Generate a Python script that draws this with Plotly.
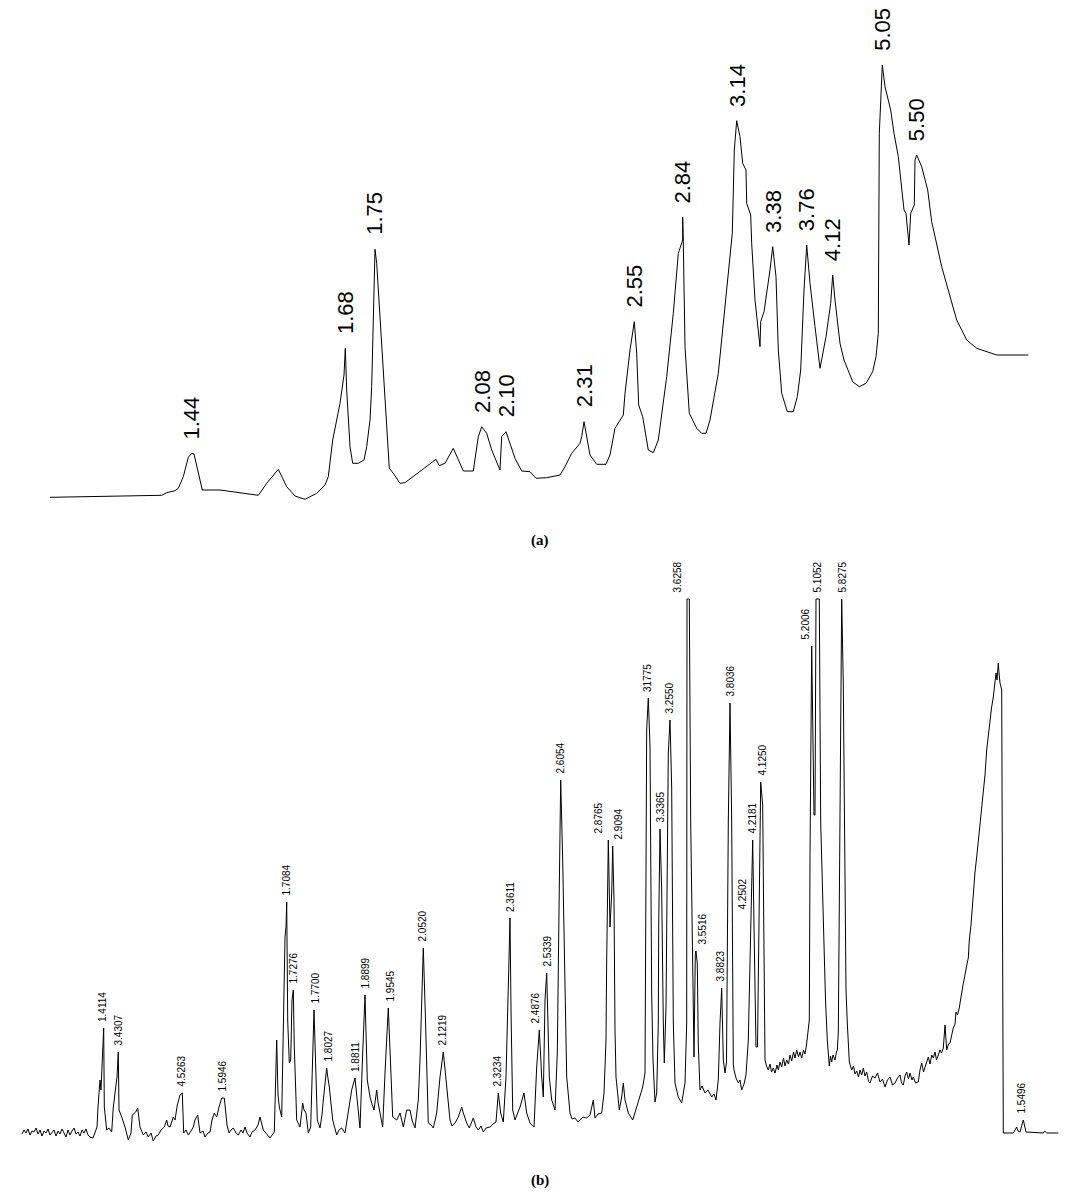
import numpy as np
import plotly.graph_objects as go

# ---- panel (a): smoothed chromatogram (time index, detector signal) ----
a_time = [50, 116.7, 143, 161.7, 166.7, 175, 178.3, 183.3, 188.3, 191.7, 194, 196.7, 202.3, 220,
          253.3, 258.3, 266.7, 278.3, 286.7, 295, 305, 316.7, 325, 328.3, 332.7, 340, 344, 345.3,
          346.7, 350, 352.7, 358.3, 364, 366.7, 370, 371.7, 373.3, 375, 376.7, 380, 385, 389.3,
          393.3, 400, 405, 420, 433.3, 436, 439.3, 445, 453.3, 463.3, 473.3, 478.3, 481.7, 486.7,
          491.7, 500, 501.7, 506, 515, 521.7, 530, 536, 546.7, 560, 565, 571.7, 580, 581.7, 584,
          586, 590, 596.7, 606, 610, 615, 623.3, 625, 630, 634.3, 636.7, 638.7, 642.7, 648.3,
          653.3, 658.3, 666.7, 673.3, 678.3, 682.7, 682.7, 683.3, 685, 689.3, 696.7, 701.7, 706,
          710, 718.3, 725, 732.3, 734.3, 736.7, 740, 742.7, 746, 746.7, 750.7, 751.7, 755, 760,
          760.7, 764, 770, 772.7, 776, 778.3, 781.7, 787.3, 793.3, 797.3, 800.7, 804, 806.7, 810,
          815, 820, 826, 830.7, 832.7, 835, 840, 844, 852.7, 859.3, 866, 872.7, 876, 878.3, 879.3,
          882.3, 885, 890.7, 894, 898.3, 904, 906, 909, 910.7, 914.3, 915, 916.7, 921.7, 927.7,
          931.7, 941.7, 956.7, 966.7, 976.7, 996.7, 1028.3]
a_signal = [2.7, 4, 4.7, 4.7, 7.3, 9.3, 11.7, 23.3, 42.7, 46.7, 46, 33.3, 10, 10,
            6, 4.7, 16.7, 30.7, 13.3, 4, 0.7, 6.7, 15, 23.3, 60, 96.7, 125, 151.7,
            110, 53.3, 36.7, 36.7, 40, 53.3, 80, 113.3, 180, 250.7, 236.7, 180, 96.7, 31.7,
            26.7, 16.7, 17.3, 28.3, 38.3, 40.7, 34.3, 36.7, 51.7, 29, 29, 63.3, 73.3, 66.7,
            50, 30, 63.3, 68.3, 41.7, 29, 28.3, 21.7, 22.3, 25, 33.3, 46.7, 56.7, 63.3, 78.3,
            66.7, 45, 35.7, 35.7, 45, 71.7, 85, 106.7, 150, 178.3, 146.7, 95, 83.3, 50,
            47.3, 60, 123.3, 186.7, 246.7, 260, 282.7, 258.3, 153.3, 86.7, 71.7, 66.7, 66.7,
            80, 126.7, 196.7, 266.7, 350, 379.3, 363.3, 336.7, 330, 296.7, 285, 256.7, 200, 153.3,
            178.3, 188.3, 230, 253.3, 223.3, 150, 106.7, 88.3, 88.3, 103.3, 130, 210, 255, 216.7,
            173.3, 131.7, 163.3, 196.7, 225, 200, 156.7, 140, 118.3, 113.3, 116.7, 128.3, 143.3, 166.7, 366.7,
            435, 413.3, 390, 366.7, 343.3, 290, 286.7, 255, 286.7, 295, 340, 345, 333.3, 310,
            278.3, 233.3, 180, 160, 151.7, 145, 145]

a_labels = ["1.44", "1.68", "1.75", "2.08", "2.10", "2.31", "2.55", "2.84",
            "3.14", "3.38", "3.76", "4.12", "5.05", "5.50"]
a_label_peaks = [191.7, 345.3, 375, 481.7, 506, 584, 634.3, 682.7,
                 736.7, 772.7, 806.7, 832.7, 882.3, 916.7]

# ---- panel (b): raw chromatogram ----
b_time = [22, 24, 26, 28, 30, 32, 34, 36, 38, 40, 42, 44, 46, 48, 50, 52, 54, 56, 58, 60,
          62, 64, 66, 68, 70, 72, 74, 76, 78, 80, 82, 84, 86, 88, 90,
          93, 97, 98, 100, 101, 102, 103.7, 104.3, 106.7, 109, 111.7, 113.3, 115.7, 117, 118.3,
          119, 121.7, 125, 128.3, 131, 132.3, 135.7, 137.7, 140, 143.3, 146, 148.3, 151, 153.3,
          156, 158.3, 161, 164.3, 166.7, 168, 170, 173.3, 175, 177.3, 180, 182.3, 183.7, 186,
          188.3, 191, 193.3, 195, 197.7, 200, 203, 205, 208, 210, 212, 214.3, 216.7, 219, 221.7,
          224.3, 225.7, 227, 229, 231, 233.3, 236, 238.3, 241, 243, 245, 247, 250, 252, 255, 258,
          260, 263.3, 266, 270, 274.3, 275, 276.7, 278, 279.3, 281.7, 283.3, 285, 286, 286.7,
          287.7, 289.3, 290.7, 292, 293.3, 294.3, 296.7, 300, 302.7, 304, 306, 308.3, 310.7,
          312.7, 314, 315.3, 317.3, 320, 322, 323.3, 325, 326.7, 327.5, 329.3, 332.7, 334.5,
          336.7, 339, 341.7, 345, 348.3, 350, 351.7, 355, 357.3, 360, 362.7, 365, 367.3, 370,
          372, 374, 376.7, 378, 380, 382.7, 385, 387.3, 388.3, 390.7, 392.7, 396.7, 400, 403.3,
          406.7, 410, 412, 415, 418.3, 420, 421.7, 423.3, 425.3, 428.3, 431, 433.3, 436.7, 440,
          443.3, 446.7, 450, 452, 455, 458.3, 461.7, 463.3, 466.7, 469.3, 473.3, 476, 478.3, 481,
          483.3, 486, 490, 493, 496, 498.3, 500.7, 503.3, 506, 508.3, 510, 511, 512.7, 515, 518,
          520, 524, 526.7, 530, 534, 536.7, 539.3, 541.7, 543.3, 545, 546.7, 549.3, 551.7, 555,
          557.3, 559.3, 560.7, 562.7, 565, 566.7, 570, 572, 575, 578, 580, 583, 586.7, 590,
          593.3, 595, 598, 601.7, 604, 606, 606.7, 608.3, 610, 611.7, 612.7, 614, 615, 616,
          619.3, 621.7, 623.3, 625, 628.3, 632.7, 636.7, 640, 642.7, 645, 646.7, 648.3, 650,
          651.7, 653, 655, 656.7, 658.3, 658.7, 660, 661.7, 663.3, 664.3, 666, 668.3, 670, 671.7,
          673.3, 675, 678.3, 681.7, 685, 686.7, 687, 689.3, 690.7, 692.7, 694, 695.3, 696, 697.3,
          698.3, 700, 702, 705, 708, 711.7, 714, 716, 718.3, 720, 721.7, 723.3, 725, 726.5,
          728.3, 730, 731.7, 733.3, 734, 736, 738.3, 740, 741.7, 744, 746, 748.3, 750.7, 752.7,
          754, 756, 757.5, 759.3, 760.7, 762.7, 764, 765, 766.5, 768.3, 770, 771.5, 773.3, 775,
          777, 778.3, 780, 781.7, 783.5, 785, 786.7, 788.5, 790, 791.7, 793.5, 795, 796.7, 798.5,
          800, 801.7, 803.5, 805, 806.5, 807.3, 809.3, 810, 811.7, 814, 815, 816, 819.3, 820.7,
          824, 825.5, 827.3, 828.5, 829.3, 830.5, 831.7, 833, 835, 836.5, 837.3, 838.3, 840,
          841.7, 843.3, 845, 846, 847.3, 849.3, 851.7, 853.5, 855, 856.7, 858.5, 860, 861.7,
          863.3, 865, 866.7, 868.5, 870, 872.5, 875, 877.5, 880, 882.5, 885, 887.5, 890, 892.5,
          895, 897.5, 900, 901.5, 903.3, 905, 906.7, 908.5, 910, 912, 913.3, 915.5, 918.3, 920,
          921.7, 923.5, 925, 926.7, 928.3, 930, 931.7, 933.3, 935, 936.5, 938.3, 940, 941.5,
          943.3, 945, 946.7, 948.5, 950, 951.5, 953.3, 955, 956, 957.5, 959.3, 960.5, 961.7, 963,
          964, 965.2, 966, 967.2, 968.3, 969.3, 971, 973.3, 975, 976.7, 978.5, 980, 981.5, 983.3,
          985, 986.7, 988.5, 990, 991.5, 993.3, 994.5, 996, 997, 998.3, 999.2, 1000, 1001.7,
          1002.3, 1003.3, 1013.3, 1016.7, 1018, 1020, 1023.3, 1026, 1043.3, 1044.7, 1046.7, 1058.3]
b_signal = [6, 10, 7, 11, 5, 9, 8, 12, 6, 10, 4, 9, 7, 11, 5, 8, 10, 4, 9, 6,
            11, 7, 3, 10, 5, 9, 12, 6, 8, 4, 10, 7, 11, 5, 3,
            2, 13, 33, 60, 50, 80, 112, 33, 10, 12, 8, 33, 50, 63, 88,
            30, 23, 13, 0, 7, 25, 28, 32, 13, 5, 8, 3, 7, -1,
            4, 5, 10, 13, 20, 14, 13, 23, 20, 35, 45, 47, 7, 10,
            5, 9, 13, 20, 25, 7, 9, 3, 7, 8, 20, 27, 23, 33, 42,
            42, 27, 15, 7, 10, 12, 7, 5, 10, 7, 13, 7, 3, 8, 10, 15,
            23, 10, 7, 2, 8, 35, 100, 45, 33, 23, 117, 203, 213, 238,
            120, 77, 80, 140, 150, 93, 20, 13, 37, 30, 27, 7, 13,
            103, 130, 87, 20, 12, 25, 40, 60, 72, 65, 53, 20, 12,
            5, 10, 12, 7, 30, 40, 50, 62, 40, 12, 87, 145, 60, 43,
            36, 30, 50, 38, 27, 13, 67, 113, 132, 73, 23, 20, 27, 13,
            30, 30, 20, 12, 40, 80, 153, 192, 127, 17, 15, 12, 27, 63,
            88, 53, 20, 14, 17, 23, 33, 27, 17, 12, 22, 13, 10, 14,
            8, 12, 13, 16, 18, 47, 27, 18, 63, 153, 222, 130, 30, 20, 28,
            33, 47, 27, 17, 13, 73, 110, 63, 43, 140, 167, 63, 40, 30,
            87, 253, 360, 280, 147, 63, 27, 21, 22, 18, 20, 23, 22, 25,
            40, 22, 26, 27, 47, 100, 180, 300, 213, 247, 294, 240, 110, 63,
            30, 43, 57, 40, 27, 20, 33, 43, 53, 67, 411, 442, 394,
            145, 80, 38, 47, 117, 214, 311, 249, 117, 77, 133, 387, 420, 352,
            117, 57, 43, 37, 57, 117, 541, 541, 318, 145, 83, 186, 189, 176,
            95, 50, 54, 47, 50, 43, 46, 40, 60, 117, 152, 80, 67, 78,
            318, 437, 318, 76, 70, 62, 57, 60, 50, 56, 65, 100, 224, 300,
            214, 93, 93, 249, 358, 335, 179, 80, 74, 70, 76, 68, 72, 67,
            75, 70, 78, 73, 82, 74, 80, 76, 85, 79, 88, 82, 90, 83,
            88, 82, 90, 86, 95, 103, 120, 283, 494, 325, 325, 541, 541, 318,
            179, 140, 100, 80, 74, 84, 78, 85, 80, 88, 90, 107, 318,
            541, 456, 214, 150, 117, 78, 70, 74, 66, 69, 63, 70, 65,
            72, 64, 68, 59, 57, 64, 62, 67, 58, 61, 53, 60, 63, 55,
            57, 62, 65, 57, 55, 64, 68, 61, 67, 60, 63, 57, 58, 70,
            77, 68, 73, 80, 83, 76, 85, 82, 88, 80, 85, 90, 87,
            92, 115, 90, 96, 97, 104, 112, 116, 128, 125, 132, 140, 150, 155,
            160, 168, 173, 177, 182, 200, 215, 250, 268, 283, 300, 313, 325, 347,
            365, 390, 405, 423, 432, 443, 452, 467, 460, 477, 465, 457, 450,
            217, 7, 7, 13, 9, 8, 20, 8, 7, 9, 7, 7]

b_labels = ["1.4114", "3.4307", "4.5263", "1.5946", "1.7084", "1.7276", "1.7700", "1.8027",
            "1.8811", "1.8899", "1.9545", "2.0520", "2.1219", "2.3234", "2.3611", "2.4876",
            "2.5339", "2.6054", "2.8765", "2.9094", "31775", "3.3365", "3.2550", "3.6258",
            "3.5516", "3.8823", "3.8036", "4.2502", "4.2181", "4.1250", "5.2006", "5.1052",
            "5.8275", "1.5496"]
b_label_times = [102, 118, 181, 222, 286, 293, 315, 328,
                 355, 365, 390, 422, 442, 497, 510, 535,
                 547, 560, 598, 618, 647, 660, 669, 677,
                 702, 720, 730, 742, 752, 762, 805, 817,
                 842, 1021]
b_label_peaks = [103.7, 118.3, 182.3, 224.3, 286.7, 293.3, 314, 326.7,
                 355, 365, 388.3, 423.3, 443.3, 498.3, 510, 539.3,
                 546.7, 560.7, 608.3, 612.7, 648.3, 660, 670, 688,
                 696, 721.7, 730, 750.7, 752.7, 760.7, 811.7, 817.5,
                 841.7, 1023.3]

assert len(a_time) == len(a_signal)
assert len(b_time) == len(b_signal), (len(b_time), len(b_signal))


def apex(xs, ys, x0, half=1.0):
    xs = np.asarray(xs)
    ys = np.asarray(ys)
    sel = np.abs(xs - x0) <= half
    return ys[sel].max() if sel.any() else float(np.interp(x0, xs, ys))


W, H = 1075, 1201

fig = go.Figure()
fig.add_trace(go.Scatter(x=a_time, y=a_signal, mode="lines",
                         line=dict(color="black", width=1), xaxis="x", yaxis="y"))
fig.add_trace(go.Scatter(x=b_time, y=b_signal, mode="lines",
                         line=dict(color="black", width=1), xaxis="x2", yaxis="y2"))

lab_font = "Liberation Sans, Arial, sans-serif"
annotations = []
for txt, t in zip(a_labels, a_label_peaks):
    annotations.append(dict(x=t, y=apex(a_time, a_signal, t), xref="x", yref="y",
                            text=txt, textangle=-90, showarrow=False,
                            xanchor="center", yanchor="bottom", yshift=12,
                            font=dict(family=lab_font, size=22, color="black")))
for txt, t, p in zip(b_labels, b_label_times, b_label_peaks):
    annotations.append(dict(x=t, y=apex(b_time, b_signal, p), xref="x2", yref="y2",
                            text=txt, textangle=-90, showarrow=False,
                            xanchor="center", yanchor="bottom", yshift=4,
                            font=dict(family=lab_font, size=10, color="black")))
for cap, yy in [("<b>(a)</b>", 1 - 540 / H), ("<b>(b)</b>", 1 - 1180 / H)]:
    annotations.append(dict(x=540 / W, y=yy, xref="paper", yref="paper", text=cap,
                            showarrow=False, xanchor="center", yanchor="middle",
                            font=dict(family="Liberation Serif, Times New Roman, serif",
                                      size=15, color="black")))

fig.update_layout(
    width=W, height=H,
    margin=dict(l=0, r=0, t=0, b=0),
    paper_bgcolor="white", plot_bgcolor="white",
    showlegend=False,
    xaxis=dict(range=[0, W], domain=[0, 1], visible=False, anchor="y"),
    yaxis=dict(range=[-10, 490], domain=[1 - 510 / H, 1 - 10 / H], visible=False, anchor="x"),
    xaxis2=dict(range=[0, W], domain=[0, 1], visible=False, anchor="y2"),
    yaxis2=dict(range=[-10, 590], domain=[1 - 1150 / H, 1 - 550 / H], visible=False, anchor="x2"),
    annotations=annotations,
)

fig.write_html("out.html", config={"displayModeBar": False},
               post_script="document.body.style.margin='0';")
